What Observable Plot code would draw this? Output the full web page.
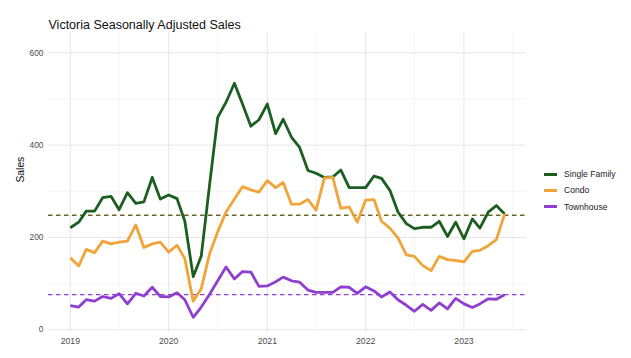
<!DOCTYPE html>
<html>
<head>
<meta charset="utf-8">
<script src="https://cdn.jsdelivr.net/npm/d3@7"></script>
<script src="https://cdn.jsdelivr.net/npm/@observablehq/plot@0.6"></script>
<style>
  html, body { margin: 0; padding: 0; background: #fff; }
  #wrap { position: relative; width: 631px; height: 358px; font-family: "Liberation Sans", Arial, sans-serif; }
  #legend { position: absolute; left: 544px; top: 166px; font-size: 8.6px; color: #222; }
  .item { display: flex; align-items: center; height: 16.3px; }
  .key { width: 13px; height: 2.8px; margin-right: 7px; }
</style>
</head>
<body>
<div id="wrap"></div>
<script>
// ---- data ----
const seriesNames = ["Single Family", "Condo", "Townhouse"];
const seriesColors = ["#1b5e20", "#f0a43a", "#8e3fd0"];
const startMonth = "2019-01"; // monthly, Jan 2019 .. Jun 2023
const singleFamily = [221, 233, 257, 257, 286, 289, 260, 297, 274, 277, 330, 283,
  292, 284, 235, 115, 160, 315, 460, 493, 534, 489, 441, 455,
  489, 425, 456, 417, 395, 345, 339, 330, 331, 346, 308, 308,
  308, 333, 328, 302, 255, 230, 219, 222, 222, 235, 202, 233,
  197, 240, 220, 255, 269, 251];
const condo = [156, 138, 174, 167, 192, 186, 190, 192, 227, 178, 186, 190,
  168, 183, 154, 62, 89, 165, 212, 255, 283, 310, 303, 298,
  323, 308, 319, 272, 272, 282, 259, 329, 330, 263, 266, 233,
  281, 282, 235, 220, 199, 162, 159, 139, 128, 159, 152, 150,
  147, 170, 172, 182, 195, 251];
const townhouse = [52, 49, 65, 62, 72, 68, 78, 56, 79, 73, 92, 72,
  71, 80, 65, 27, 49, 77, 106, 136, 110, 126, 125, 94,
  95, 104, 114, 106, 103, 86, 81, 81, 81, 93, 92, 79,
  93, 84, 71, 82, 65, 53, 40, 55, 42, 58, 45, 68,
  56, 48, 56, 67, 66, 76];
const refLines = [248, 76];
const refColors = ["#6e6428", "#8e3fd0"];
const yearTicks = [2019, 2020, 2021, 2022, 2023];
const yTicks = [0, 200, 400, 600];
const yMinor = [100, 300, 500];
const title = "Victoria Seasonally Adjusted Sales";
const yLabel = "Sales";

// ---- build ----
const start = new Date(startMonth + "-01T00:00:00Z");
const valuesBySeries = [singleFamily, condo, townhouse];
const rows = [];
valuesBySeries.forEach((vals, s) => {
  vals.forEach((v, i) => {
    rows.push({date: d3.utcMonth.offset(start, i), value: v, series: seriesNames[s]});
  });
});
const yearDates = yearTicks.map(y => new Date(Date.UTC(y, 0, 1)));
const midDates = yearTicks.map(y => new Date(Date.UTC(y, 6, 1)));
midDates.unshift(new Date(Date.UTC(2018, 6, 1)));

const xDomain = [new Date(Date.UTC(2018, 9, 12)), new Date(Date.UTC(2023, 7, 21))];

const chart = Plot.plot({
  width: 631,
  height: 358,
  marginLeft: 48,
  marginRight: 105,
  marginTop: 32,
  marginBottom: 26,
  style: {fontFamily: "Liberation Sans, Arial, sans-serif", background: "#fff", overflow: "visible"},
  x: {type: "utc", domain: xDomain},
  y: {domain: [-6, 644]},
  color: {domain: seriesNames, range: seriesColors},
  marks: [
    Plot.ruleY(yMinor, {stroke: "#f1f1f1", strokeWidth: 0.8}),
    Plot.ruleX(midDates.filter(d => d >= xDomain[0] && d <= xDomain[1]), {stroke: "#f1f1f1", strokeWidth: 0.8}),
    Plot.ruleY(yTicks, {stroke: "#e6e6e6", strokeWidth: 1}),
    Plot.ruleX(yearDates, {stroke: "#e6e6e6", strokeWidth: 1}),
    Plot.axisY(yTicks, {tickSize: 0, tickPadding: 5, fontSize: 8.4, fill: "#4d4d4d", label: null}),
    Plot.axisX(yearDates, {tickSize: 0, tickPadding: 5, fontSize: 8.7, fill: "#4d4d4d", label: null, tickFormat: d3.utcFormat("%Y")}),
    Plot.ruleY([refLines[0]], {stroke: refColors[0], strokeWidth: 1.3, strokeDasharray: "4.5,3.5"}),
    Plot.ruleY([refLines[1]], {stroke: refColors[1], strokeWidth: 1.1, strokeDasharray: "4.5,3.5"}),
    Plot.line(rows, {x: "date", y: "value", z: "series", stroke: "series", strokeWidth: 2.8, strokeLinejoin: "round", strokeLinecap: "butt"}),
    Plot.text([yLabel], {frameAnchor: "left", dx: -28, rotate: -90, fontSize: 10.3, fill: "#111", text: d => d}),
    Plot.text([title], {frameAnchor: "top-left", dy: -12, textAnchor: "start", fontSize: 12.5, fill: "#111", text: d => d})
  ]
});
const wrap = document.getElementById("wrap");
wrap.appendChild(chart);

const legend = document.createElement("div");
legend.id = "legend";
seriesNames.forEach((name, i) => {
  const item = document.createElement("div");
  item.className = "item";
  const key = document.createElement("span");
  key.className = "key";
  key.style.background = seriesColors[i];
  const label = document.createElement("span");
  label.textContent = name;
  item.appendChild(key);
  item.appendChild(label);
  legend.appendChild(item);
});
wrap.appendChild(legend);
chart.style.position = "absolute";
chart.style.left = "0";
chart.style.top = "0";
</script>
</body>
</html>
